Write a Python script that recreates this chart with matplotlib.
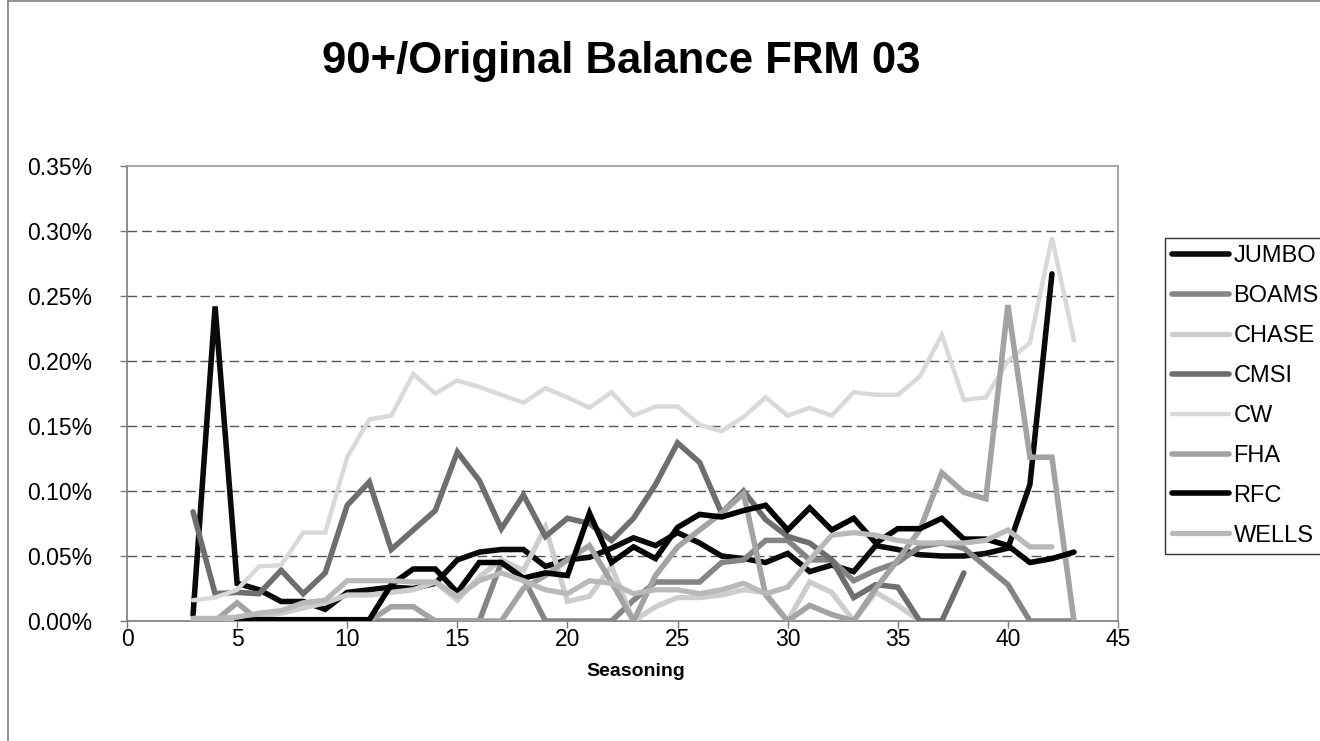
import matplotlib
matplotlib.use("Agg")
import matplotlib.pyplot as plt
import numpy as np
from matplotlib.lines import Line2D
from matplotlib.ticker import FuncFormatter

plt.rcParams['font.family'] = ['Liberation Sans', 'DejaVu Sans']

nan = np.nan

# Seasoning (months) on the x axis
seasoning = list(range(3, 44))

# 90+/original balance, in percent (nan = no point)
jumbo = [0.005, 0.242, 0.029, 0.024, 0.015, 0.015, 0.009, 0.022, 0.024, 0.026,
         0.025, 0.029, 0.047, 0.053, 0.055, 0.055, 0.042, 0.047, 0.049, 0.056,
         0.064, 0.058, 0.068, 0.060, 0.050, 0.048, 0.045, 0.052, 0.038, 0.043,
         0.038, 0.058, 0.055, 0.051, 0.050, 0.050, 0.052, 0.056, 0.105, 0.267,
         nan]
boams = [nan, nan, nan, nan, nan, nan, nan, nan, 0.0, 0.0,
         0.0, 0.0, 0.0, 0.0, 0.045, 0.033, 0.0, 0.0, 0.0, 0.0,
         0.016, 0.030, 0.030, 0.030, 0.045, 0.047, 0.062, 0.062, 0.047, 0.047,
         0.031, 0.039, 0.045, 0.057, 0.060, 0.056, 0.042, 0.028, 0.0, 0.0,
         0.0]
chase = [0.0, 0.0, 0.0, 0.004, 0.006, 0.010, 0.014, 0.020, 0.020, 0.022,
         0.024, 0.030, 0.016, 0.034, 0.047, 0.039, 0.072, 0.015, 0.019, 0.042,
         0.0, 0.011, 0.018, 0.018, 0.020, 0.024, 0.022, 0.0, 0.030, 0.022,
         0.0, 0.022, 0.012, 0.0, 0.0, nan, nan, nan, nan, nan,
         nan]
cmsi = [0.084, 0.021, 0.022, 0.021, 0.039, 0.021, 0.037, 0.089, 0.107, 0.055,
        0.070, 0.085, 0.130, 0.108, 0.071, 0.097, 0.065, 0.079, 0.075, 0.062,
        0.079, 0.105, 0.137, 0.122, 0.083, 0.100, 0.078, 0.065, 0.060, 0.047,
        0.018, 0.028, 0.026, 0.0, 0.0, 0.037, nan, nan, nan, nan,
        nan]
cw = [0.016, 0.018, 0.024, 0.042, 0.043, 0.068, 0.068, 0.126, 0.155, 0.158,
      0.190, 0.175, 0.185, 0.180, 0.174, 0.168, 0.179, 0.172, 0.164, 0.176,
      0.158, 0.165, 0.165, 0.151, 0.146, 0.157, 0.172, 0.158, 0.164, 0.158,
      0.176, 0.174, 0.174, 0.188, 0.220, 0.170, 0.172, 0.200, 0.214, 0.295,
      0.216]
fha = [0.0, 0.0, 0.014, 0.0, 0.0, 0.0, 0.0, 0.0, 0.0, 0.011,
       0.011, 0.0, 0.0, 0.0, 0.0, 0.025, 0.035, 0.047, 0.058, 0.030,
       0.0, 0.035, 0.057, 0.070, 0.083, 0.098, 0.020, 0.0, 0.012, 0.005,
       0.0, 0.025, 0.047, 0.070, 0.114, 0.099, 0.094, 0.243, 0.126, 0.126,
       0.0]
rfc = [nan, nan, 0.0, 0.001, 0.001, 0.001, 0.001, 0.001, 0.001, 0.028,
       0.040, 0.040, 0.022, 0.045, 0.045, 0.033, 0.037, 0.035, 0.083, 0.045,
       0.057, 0.048, 0.072, 0.082, 0.080, 0.085, 0.089, 0.070, 0.087, 0.070,
       0.079, 0.060, 0.071, 0.071, 0.079, 0.063, 0.063, 0.058, 0.045, 0.048,
       0.053]
wells = [0.002, 0.002, 0.003, 0.006, 0.008, 0.014, 0.016, 0.031, 0.031, 0.031,
         0.030, 0.030, 0.019, 0.031, 0.037, 0.031, 0.024, 0.021, 0.031, 0.029,
         0.021, 0.024, 0.024, 0.021, 0.024, 0.029, 0.021, 0.026, 0.047, 0.066,
         0.068, 0.066, 0.062, 0.060, 0.060, 0.060, 0.062, 0.070, 0.057, 0.057,
         nan]

names = ["JUMBO", "BOAMS", "CHASE", "CMSI", "CW", "FHA", "RFC", "WELLS"]
series = [jumbo, boams, chase, cmsi, cw, fha, rfc, wells]
colors = ["#0a0a0a", "#858585", "#cdcdcd", "#6e6e6e", "#d9d9d9", "#a3a3a3", "#000000", "#b9b9b9"]
widths = [4.0, 4.0, 3.8, 4.0, 3.2, 4.0, 4.0, 3.8]

W, H = 1320, 741
fig = plt.figure(figsize=(W / 100, H / 100), dpi=100)
ax = fig.add_axes([127 / W, 1 - 621 / H, (1118 - 127) / W, (621 - 166) / H])

for i, (name, vals) in enumerate(zip(names, series)):
    ax.plot(seasoning, np.array(vals, dtype=float), color=colors[i], lw=widths[i],
            label=name, solid_joinstyle="miter", solid_capstyle="round", zorder=3 + i)

ax.set_xlim(0, 45)
ax.set_ylim(0, 0.35)
ax.set_xticks(range(0, 46, 5))
ax.set_yticks(np.arange(0, 0.351, 0.05))
ax.yaxis.set_major_formatter(FuncFormatter(lambda v, p: f"{v:.2f}%"))

for y in np.arange(0.05, 0.31, 0.05):
    ax.axhline(y, color="#555555", lw=1.0, ls=(0, (7, 3.5)), zorder=1)

for side in ("top", "right"):
    ax.spines[side].set_color("#9a9a9a")
    ax.spines[side].set_linestyle((0, (1, 1)))
    ax.spines[side].set_linewidth(1.2)
for side in ("left", "bottom"):
    ax.spines[side].set_color("#7a7a7a")
    ax.spines[side].set_linewidth(1.2)

ax.tick_params(axis="y", length=5, width=1, color="#7a7a7a", pad=20, labelsize=16.5)
ax.tick_params(axis="x", length=5, width=1, color="#7a7a7a", pad=0, labelsize=16.5)

fig.text(621 / W, 1 - 62 / H, "90+/Original Balance FRM 03", ha="center", va="center",
         fontsize=31.5, fontweight="bold")
fig.text(636 / W, 1 - 672 / H, "Seasoning", ha="center", va="center",
         fontsize=14, fontweight="bold")

# outer chart frame (cut off on the right and bottom)
fig.add_artist(Line2D([8 / W, 8 / W], [0, 1], color="#808080", lw=1.2))
fig.add_artist(Line2D([8 / W, 1], [1 - 1 / H, 1 - 1 / H], color="#808080", lw=1.2))

handles, labels = ax.get_legend_handles_labels()
leg = fig.legend(handles, labels, loc="upper left", bbox_to_anchor=(1165 / W, 1 - 238 / H),
                 frameon=True, fancybox=False, edgecolor="black", fontsize=17,
                 handlelength=2.4, handletextpad=0.2, labelspacing=0.76,
                 borderpad=0.3, borderaxespad=0)
leg.get_frame().set_linewidth(1.0)

fig.savefig("out.png", dpi=100)
